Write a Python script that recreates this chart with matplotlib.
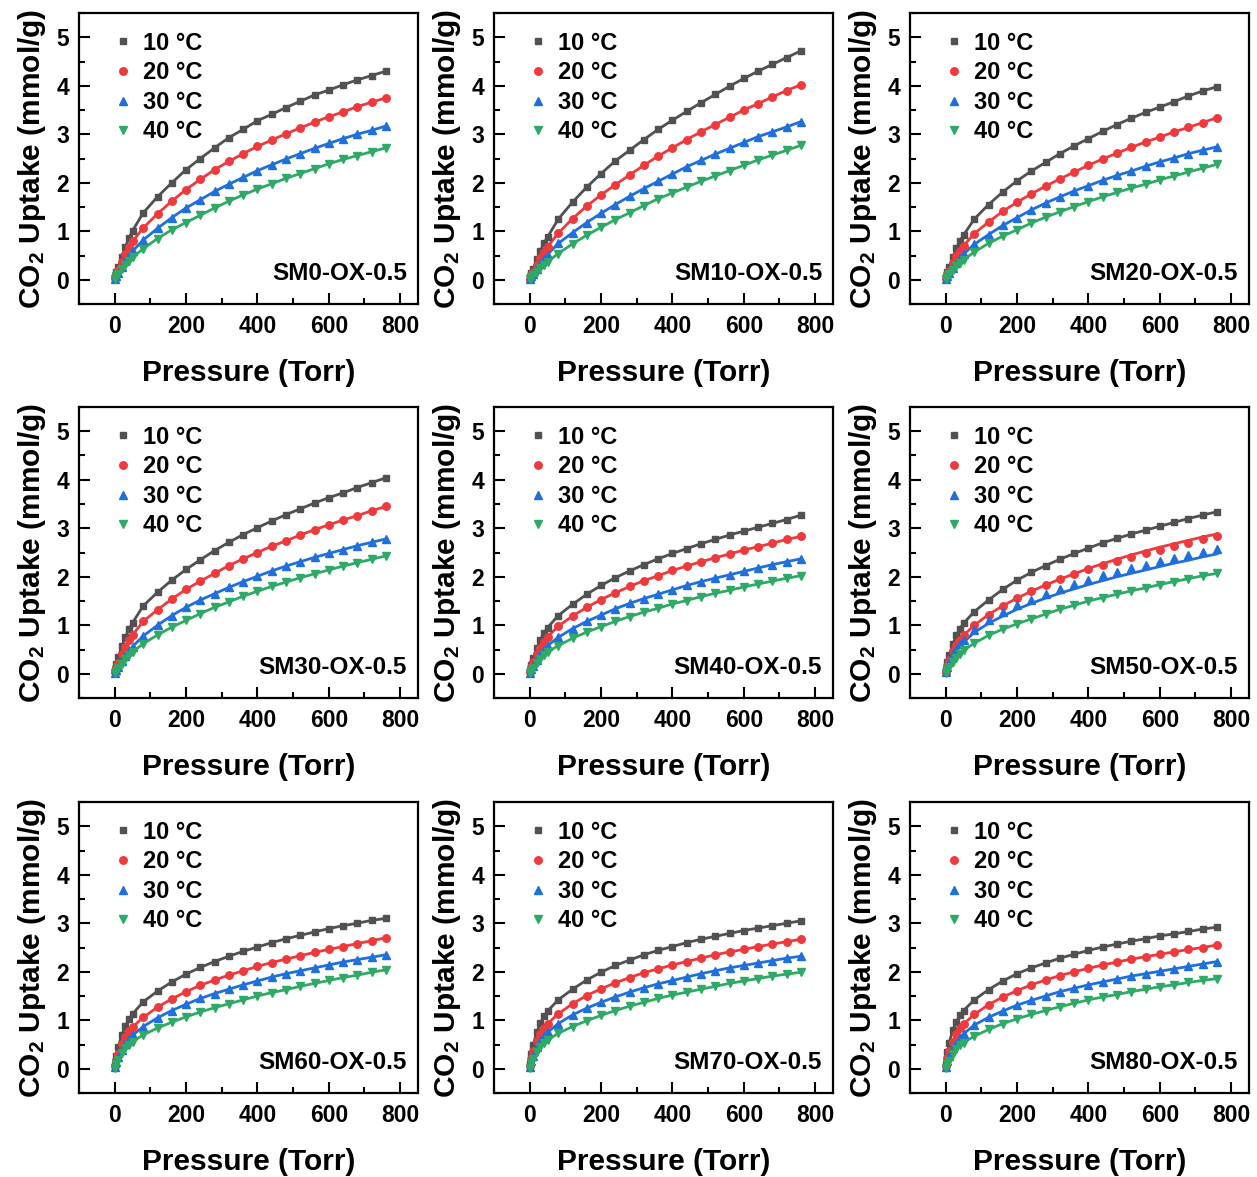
import matplotlib
matplotlib.use("Agg")
import matplotlib.pyplot as plt
from matplotlib.lines import Line2D
from matplotlib.ticker import MultipleLocator

plt.rcParams['font.family'] = ['Liberation Sans', 'DejaVu Sans']
plt.rcParams['font.weight'] = 'bold'
plt.rcParams['mathtext.fontset'] = 'custom'
plt.rcParams['mathtext.rm'] = 'Liberation Sans:bold'
plt.rcParams['mathtext.default'] = 'rm'

# ---------------- data ----------------
pressure = [1, 5, 10, 20, 30, 40, 50, 80, 120, 160, 200, 240, 280, 320, 360, 400,
            440, 480, 520, 560, 600, 640, 680, 720, 760]

temps = ["10 °C", "20 °C", "30 °C", "40 °C"]
samples = ["SM0-OX-0.5", "SM10-OX-0.5", "SM20-OX-0.5", "SM30-OX-0.5", "SM40-OX-0.5",
           "SM50-OX-0.5", "SM60-OX-0.5", "SM70-OX-0.5", "SM80-OX-0.5"]

SM0_10 = [0.04,0.15,0.26,0.47,0.68,0.86,1.01,1.38,1.71,2.00,2.27,2.50,2.72,2.93,3.10,3.28,3.41,3.55,3.68,3.81,3.91,4.02,4.12,4.21,4.30]
SM0_20 = [0.03,0.12,0.20,0.37,0.53,0.67,0.79,1.07,1.36,1.62,1.86,2.07,2.27,2.44,2.60,2.75,2.88,3.01,3.13,3.25,3.36,3.46,3.57,3.66,3.75]
SM0_30 = [0.02,0.08,0.14,0.26,0.38,0.49,0.59,0.82,1.06,1.28,1.48,1.65,1.82,1.97,2.11,2.25,2.37,2.49,2.60,2.71,2.81,2.91,3.00,3.08,3.17]
SM0_40 = [0.01,0.07,0.12,0.22,0.31,0.39,0.46,0.64,0.85,1.03,1.18,1.33,1.48,1.62,1.75,1.87,1.98,2.09,2.19,2.29,2.39,2.48,2.56,2.64,2.72]

SM10_10 = [0.04,0.13,0.22,0.42,0.60,0.75,0.88,1.25,1.60,1.91,2.19,2.45,2.67,2.89,3.10,3.29,3.47,3.65,3.82,3.99,4.15,4.30,4.44,4.58,4.72]
SM10_20 = [0.02,0.09,0.16,0.30,0.44,0.57,0.68,0.96,1.26,1.52,1.75,1.96,2.16,2.36,2.55,2.72,2.89,3.05,3.20,3.35,3.50,3.63,3.77,3.90,4.02]
SM10_30 = [0.01,0.07,0.12,0.22,0.33,0.43,0.52,0.75,0.97,1.18,1.37,1.55,1.72,1.88,2.03,2.18,2.33,2.46,2.59,2.71,2.83,2.95,3.05,3.15,3.26]
SM10_40 = [0.01,0.05,0.09,0.17,0.24,0.31,0.37,0.54,0.74,0.92,1.08,1.24,1.38,1.53,1.67,1.79,1.91,2.03,2.14,2.25,2.36,2.47,2.57,2.67,2.77]

SM20_10 = [0.04,0.16,0.27,0.47,0.65,0.80,0.92,1.25,1.55,1.81,2.04,2.24,2.42,2.60,2.76,2.91,3.06,3.20,3.33,3.45,3.56,3.67,3.79,3.89,3.98]
SM20_20 = [0.03,0.11,0.19,0.34,0.48,0.60,0.70,0.95,1.19,1.41,1.60,1.77,1.93,2.08,2.22,2.36,2.49,2.61,2.73,2.84,2.94,3.05,3.14,3.24,3.34]
SM20_30 = [0.02,0.08,0.13,0.24,0.35,0.45,0.53,0.73,0.93,1.12,1.28,1.44,1.58,1.71,1.83,1.94,2.05,2.15,2.24,2.34,2.43,2.51,2.60,2.67,2.74]
SM20_40 = [0.01,0.06,0.11,0.20,0.28,0.35,0.41,0.57,0.75,0.90,1.03,1.17,1.29,1.40,1.51,1.61,1.71,1.80,1.89,1.97,2.06,2.14,2.22,2.30,2.38]

SM30_10 = [0.05,0.20,0.34,0.57,0.76,0.92,1.05,1.40,1.68,1.93,2.15,2.35,2.54,2.71,2.87,3.01,3.15,3.28,3.40,3.52,3.63,3.73,3.84,3.94,4.04]
SM30_20 = [0.03,0.13,0.23,0.41,0.56,0.69,0.80,1.08,1.32,1.54,1.74,1.91,2.07,2.23,2.37,2.50,2.63,2.74,2.86,2.97,3.07,3.17,3.26,3.36,3.45]
SM30_30 = [0.02,0.08,0.14,0.26,0.37,0.47,0.56,0.78,1.00,1.20,1.37,1.52,1.65,1.78,1.90,2.01,2.12,2.22,2.31,2.40,2.48,2.56,2.64,2.71,2.78]
SM30_40 = [0.01,0.06,0.12,0.21,0.30,0.38,0.45,0.62,0.80,0.96,1.10,1.24,1.37,1.48,1.60,1.70,1.80,1.89,1.98,2.06,2.14,2.22,2.29,2.36,2.43]

SM40_10 = [0.05,0.19,0.32,0.53,0.70,0.84,0.95,1.20,1.43,1.64,1.82,1.98,2.12,2.25,2.37,2.48,2.58,2.68,2.77,2.86,2.94,3.02,3.10,3.18,3.27]
SM40_20 = [0.04,0.14,0.24,0.40,0.54,0.66,0.76,0.98,1.19,1.37,1.53,1.67,1.80,1.92,2.02,2.13,2.22,2.31,2.39,2.47,2.55,2.62,2.69,2.77,2.83]
SM40_30 = [0.02,0.09,0.17,0.29,0.40,0.50,0.58,0.75,0.93,1.08,1.21,1.34,1.45,1.55,1.64,1.73,1.82,1.90,1.97,2.04,2.11,2.18,2.25,2.31,2.37]
SM40_40 = [0.01,0.06,0.12,0.22,0.31,0.39,0.45,0.58,0.73,0.86,0.97,1.08,1.18,1.27,1.35,1.44,1.51,1.59,1.66,1.72,1.79,1.85,1.91,1.97,2.02]

SM50_10 = [0.07,0.24,0.39,0.61,0.79,0.93,1.04,1.28,1.52,1.74,1.93,2.09,2.23,2.36,2.48,2.59,2.70,2.79,2.88,2.96,3.04,3.12,3.20,3.27,3.34]
SM50_20 = [0.04,0.16,0.28,0.46,0.59,0.70,0.79,1.00,1.22,1.40,1.56,1.71,1.83,1.96,2.06,2.16,2.25,2.33,2.41,2.49,2.56,2.63,2.70,2.77,2.83]
SM50_30 = [0.03,0.13,0.24,0.40,0.52,0.62,0.70,0.90,1.10,1.27,1.41,1.53,1.65,1.75,1.85,1.94,2.03,2.10,2.18,2.25,2.32,2.39,2.45,2.51,2.57]
SM50_40 = [0.02,0.08,0.14,0.24,0.33,0.41,0.48,0.63,0.79,0.92,1.03,1.13,1.23,1.33,1.41,1.50,1.57,1.64,1.71,1.77,1.84,1.90,1.96,2.02,2.07]
# fitted curves that visibly depart from the points (SM50, 20 and 30 °C)
SM50_20_fit = [0.04,0.16,0.27,0.45,0.59,0.70,0.79,1.00,1.22,1.40,1.56,1.70,1.83,1.95,2.06,2.17,2.27,2.36,2.45,2.53,2.61,2.68,2.75,2.82,2.88]
SM50_30_fit = [0.03,0.13,0.22,0.37,0.48,0.57,0.65,0.85,1.04,1.19,1.33,1.45,1.56,1.66,1.75,1.84,1.92,2.00,2.07,2.14,2.21,2.28,2.34,2.41,2.47]

SM60_10 = [0.08,0.27,0.45,0.70,0.88,1.02,1.13,1.38,1.60,1.79,1.95,2.09,2.21,2.32,2.42,2.51,2.60,2.68,2.75,2.82,2.89,2.95,3.00,3.06,3.10]
SM60_20 = [0.05,0.18,0.31,0.51,0.65,0.77,0.86,1.06,1.27,1.44,1.59,1.72,1.83,1.93,2.02,2.11,2.19,2.26,2.33,2.40,2.46,2.52,2.58,2.64,2.70]
SM60_30 = [0.04,0.14,0.24,0.39,0.51,0.61,0.69,0.87,1.05,1.20,1.33,1.45,1.55,1.64,1.73,1.81,1.89,1.96,2.02,2.08,2.14,2.20,2.25,2.30,2.35]
SM60_40 = [0.02,0.10,0.19,0.32,0.42,0.50,0.56,0.70,0.84,0.96,1.07,1.17,1.26,1.34,1.42,1.50,1.57,1.63,1.70,1.76,1.82,1.88,1.93,1.99,2.04]

SM70_10 = [0.09,0.31,0.50,0.76,0.94,1.08,1.19,1.42,1.64,1.83,1.99,2.13,2.24,2.35,2.44,2.52,2.60,2.67,2.73,2.79,2.85,2.90,2.95,3.00,3.05]
SM70_20 = [0.06,0.21,0.36,0.57,0.72,0.84,0.93,1.13,1.34,1.51,1.65,1.77,1.88,1.98,2.06,2.14,2.21,2.28,2.35,2.41,2.46,2.52,2.57,2.62,2.67]
SM70_30 = [0.04,0.15,0.27,0.44,0.57,0.67,0.75,0.93,1.11,1.25,1.37,1.48,1.58,1.67,1.75,1.82,1.89,1.96,2.02,2.08,2.13,2.18,2.23,2.28,2.32]
SM70_40 = [0.02,0.11,0.21,0.35,0.45,0.53,0.59,0.73,0.87,0.99,1.10,1.20,1.29,1.37,1.45,1.52,1.58,1.64,1.70,1.76,1.81,1.86,1.91,1.95,1.99]

SM80_10 = [0.10,0.34,0.54,0.80,0.97,1.10,1.20,1.42,1.63,1.81,1.96,2.08,2.18,2.28,2.36,2.44,2.51,2.57,2.63,2.68,2.74,2.78,2.83,2.88,2.92]
SM80_20 = [0.06,0.22,0.36,0.56,0.71,0.83,0.92,1.12,1.32,1.48,1.61,1.73,1.83,1.92,2.00,2.07,2.14,2.20,2.26,2.31,2.36,2.41,2.46,2.50,2.55]
SM80_30 = [0.04,0.15,0.26,0.42,0.54,0.64,0.72,0.90,1.06,1.19,1.31,1.41,1.50,1.59,1.66,1.73,1.79,1.85,1.91,1.96,2.01,2.06,2.11,2.16,2.21]
SM80_40 = [0.02,0.09,0.17,0.30,0.40,0.48,0.54,0.67,0.81,0.93,1.03,1.12,1.20,1.28,1.35,1.42,1.48,1.53,1.59,1.64,1.69,1.73,1.78,1.82,1.86]

points = [
    [SM0_10, SM0_20, SM0_30, SM0_40],
    [SM10_10, SM10_20, SM10_30, SM10_40],
    [SM20_10, SM20_20, SM20_30, SM20_40],
    [SM30_10, SM30_20, SM30_30, SM30_40],
    [SM40_10, SM40_20, SM40_30, SM40_40],
    [SM50_10, SM50_20, SM50_30, SM50_40],
    [SM60_10, SM60_20, SM60_30, SM60_40],
    [SM70_10, SM70_20, SM70_30, SM70_40],
    [SM80_10, SM80_20, SM80_30, SM80_40],
]
fits = [list(p) for p in points]
fits[5][1] = SM50_20_fit
fits[5][2] = SM50_30_fit

# ---------------- style ----------------
colors = ["#515151", "#ee3a3c", "#1f6fdc", "#2eaa66"]
markers = ["s", "o", "^", "v"]
msizes = [4.8, 5.4, 5.8, 5.8]

W, H = 1257, 1177
fig = plt.figure(figsize=(W / 100, H / 100), dpi=100)

col_left = [79, 494, 910]
row_top = [13, 407, 802]
aw, ah = 339, 291

for idx, name in enumerate(samples):
    r, c = divmod(idx, 3)
    ax = fig.add_axes([col_left[c] / W, 1 - (row_top[r] + ah) / H, aw / W, ah / H])
    for k in range(4):
        ax.plot([0] + pressure, [0] + fits[idx][k], color=colors[k], lw=2.0, zorder=2)
        ax.plot(pressure, points[idx][k], ls='none', marker=markers[k], ms=msizes[k],
                color=colors[k], mec=colors[k], zorder=3)
    ax.set_xlim(-100, 850)
    ax.set_ylim(-0.5, 5.5)
    ax.xaxis.set_major_locator(MultipleLocator(200))
    ax.xaxis.set_minor_locator(MultipleLocator(100))
    ax.yaxis.set_major_locator(MultipleLocator(1))
    ax.yaxis.set_minor_locator(MultipleLocator(0.5))
    ax.tick_params(which='both', direction='in', top=False, right=False, width=1.5)
    ax.tick_params(which='major', length=8, labelsize=16.5, pad=7)
    ax.tick_params(which='minor', length=4)
    ax.tick_params(axis='x', which='major', pad=8)
    for lab in ax.get_xticklabels() + ax.get_yticklabels():
        lab.set_fontweight('bold')
    for s in ax.spines.values():
        s.set_linewidth(1.6)
    ax.set_xlabel("Pressure (Torr)", fontsize=21.5, fontweight='bold', labelpad=15)
    ax.set_ylabel("CO$_2$ Uptake (mmol/g)", fontsize=21.5, fontweight='bold', labelpad=6)
    ax.text(0.968, 0.105, name, transform=ax.transAxes, ha='right', va='center',
            fontsize=17.5, fontweight='bold')
    handles = [Line2D([], [], ls='none', marker=markers[k], ms=msizes[k], color=colors[k])
               for k in range(4)]
    ax.legend(handles, temps, loc='upper left', bbox_to_anchor=(0.045, 0.993), frameon=False,
              prop={'size': 17, 'weight': 'bold'}, handlelength=1.0, handletextpad=0.35,
              labelspacing=0.28, borderpad=0.2)

fig.savefig("out.png", dpi=100)
